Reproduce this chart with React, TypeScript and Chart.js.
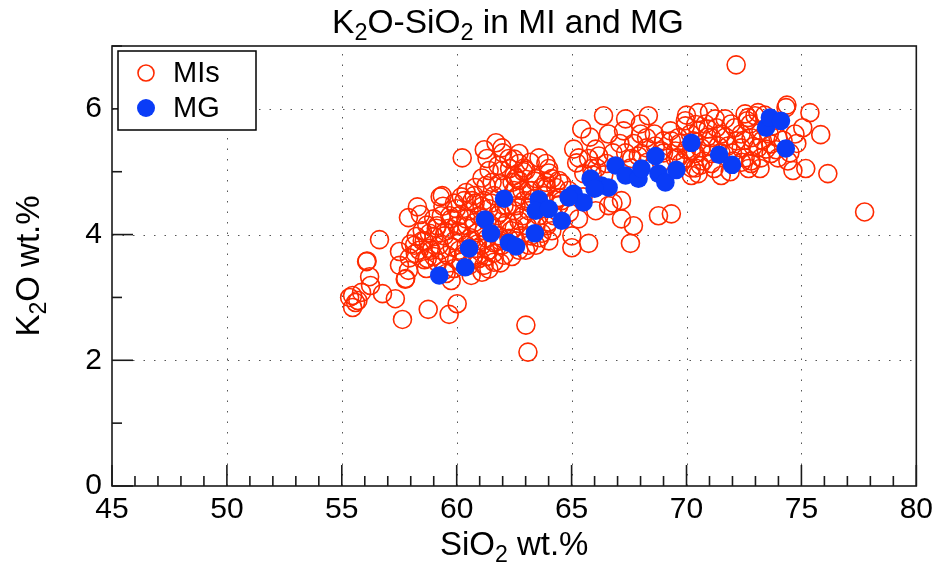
import React, { useEffect, useRef } from "react";
import { Chart, registerables } from "chart.js";

Chart.register(...registerables);

// ---- Data ----
const miSiO2: number[] = [
  55.34, 55.47, 55.47, 55.6, 55.7, 55.86, 56.08, 56.1, 56.21, 56.25, 56.64, 56.77, 57.33, 57.64, 57.76, 57.78, 57.51, 57.51, 57.9, 58.29, 58.42, 57.94, 57.9, 59.28, 58.76, 59.67, 60.02, 58.68, 58.24, 58.81, 59.15, 63.01, 63.1,
  58.59, 58.89, 59.24, 59.46, 59.67, 59.89, 60.11, 59.59, 59.15, 59.46, 58.72, 59.02, 60.19, 60.45, 60.63, 60.89, 61.1, 60.76, 60.19, 59.89, 60.54, 60.97, 61.41, 61.62, 61.19, 61.84, 62.06, 61.76, 61.41, 60.97, 60.54, 60.11, 59.76, 59.33, 60.32, 60.76, 61.19, 61.62, 62.06, 62.49, 62.71, 62.36, 62.8, 63.06, 63.14, 62.93, 62.49, 62.06, 62.71, 63.14, 63.36, 63.79, 63.58, 63.92, 64.23, 64.44, 64.01, 63.14, 62.71, 62.06, 61.62, 61.19, 60.63, 59.76, 59.54, 61.1, 59.11, 59.98, 60.41, 60.84, 61.32, 61.54, 61.97, 62.27, 62.58, 63.45, 63.23, 63.71, 60.02, 60.76, 61.32, 58.81, 58.37, 58.16, 58.5,
  59.5, 59.8, 60.0, 60.3, 60.6, 60.9, 61.3, 61.6, 61.9, 62.2, 62.5, 62.9, 63.2, 62.6, 62.2, 61.9, 61.5, 61.1, 60.8, 60.4, 60.1, 59.7, 59.4, 59.0, 58.7, 58.5, 58.2, 58.0, 58.6, 59.0, 59.3, 60.7, 61.4, 61.9, 62.4, 63.0, 63.6, 64.0, 64.3, 63.9, 63.4, 62.9, 62.3, 61.8, 61.1, 60.8, 60.2, 59.9,
  61.71, 61.97, 61.32, 62.27, 62.71, 63.58, 63.88, 61.41, 61.97, 63.01, 64.14, 64.57, 61.54, 62.41, 63.45, 60.41, 59.37, 62.84, 63.71, 61.28, 61.84, 62.49, 62.93, 60.24, 60.67,
  61.2, 62.0, 62.5, 63.2, 64.0,
  66.39, 65.44, 67.35, 67.26, 67.99, 68.34, 68.26, 69.0, 69.34, 69.95, 70.17, 65.09, 66.05, 66.18, 65.31, 67.35, 67.61, 68.26, 68.65, 69.0, 69.52, 69.64, 70.38, 65.87, 66.52, 67.56, 65.53, 67.17, 66.05, 66.61, 67.69, 67.17, 68.78, 69.34, 65.01, 65.01, 65.74, 67.56, 64.44, 64.88, 65.74, 65.22, 66.09, 68.04, 68.91, 69.52, 70.21, 70.38, 69.77, 62.71, 64.01, 64.44, 63.88, 62.58, 64.31, 63.27, 64.57, 64.14, 63.71, 63.45, 62.58,
  65.5, 65.9, 66.4, 66.8, 67.1, 67.7, 68.0, 68.6, 69.3, 69.7, 70.0, 68.9, 68.3, 67.9, 66.6, 65.8, 66.8, 65.3, 64.9,
  72.16, 74.33, 74.37, 75.37, 75.06, 75.84, 75.19, 74.63, 76.15, 77.75, 70.51, 71.68, 72.68, 73.11, 70.21, 71.51, 72.81, 73.68, 74.41, 71.25, 72.55, 72.98, 72.77, 69.95, 69.64, 70.51, 70.82, 71.08, 71.51, 71.94, 72.38, 72.81, 73.24, 70.64, 71.08, 71.81, 72.38, 72.55, 73.11, 73.68, 73.46, 73.98, 70.21, 70.51, 71.08, 72.81, 73.24, 73.98, 69.95, 74.72, 72.16, 71.38, 70.94, 70.3, 72.64, 73.77, 72.03, 70.73,
  70.9, 71.3, 71.7, 72.1, 72.5, 72.9, 73.3, 73.6, 73.9, 74.2, 71.0, 71.5, 72.0, 72.4, 72.7, 73.2, 70.6, 71.2, 71.9, 74.5, 74.8, 70.4, 70.0, 71.0, 73.4,
];
const miK2O: number[] = [
  3.0, 2.84, 3.03, 2.92, 2.95, 3.08, 3.57, 3.58, 3.33, 3.19, 3.92, 3.06, 2.98, 2.65, 3.29, 3.3, 3.73, 3.51, 4.27, 4.44, 4.32, 3.63, 3.43, 4.6, 2.81, 2.73, 2.9, 3.46, 3.97, 4.02, 4.14, 2.56, 2.13,
  3.9, 3.75, 3.83, 3.98, 4.1, 3.9, 3.75, 3.67, 3.56, 3.43, 3.62, 3.97, 4.03, 4.14, 3.9, 4.03, 3.83, 3.67, 3.56, 3.46, 3.51, 3.62, 3.75, 3.87, 4.06, 3.98, 4.14, 4.3, 4.41, 4.3, 4.38, 4.3, 4.25, 4.3, 4.54, 4.62, 4.54, 4.62, 4.46, 4.38, 4.22, 4.06, 3.98, 4.14, 4.38, 4.54, 4.7, 4.78, 4.86, 4.7, 4.57, 4.62, 4.3, 4.14, 4.3, 4.46, 3.9, 3.83, 3.75, 3.67, 3.56, 3.51, 3.35, 3.27, 3.38, 3.4, 4.1, 4.41, 3.83, 3.78, 3.94, 4.14, 3.83, 3.94, 4.46, 4.14, 3.98, 4.41, 4.14, 4.19, 4.22, 3.78, 3.75, 3.83, 4.06,
  4.05, 3.8, 3.6, 3.7, 3.95, 3.85, 3.65, 3.7, 3.9, 4.2, 4.1, 4.3, 4.5, 4.6, 4.45, 4.35, 4.5, 4.45, 4.5, 4.25, 4.05, 4.3, 4.45, 4.25, 4.15, 3.9, 3.7, 3.85, 3.6, 3.65, 3.75, 3.6, 3.45, 3.55, 3.65, 3.75, 3.95, 4.2, 4.55, 4.75, 4.85, 5.0, 5.05, 5.1, 4.9, 4.75, 4.6, 4.5,
  5.46, 5.38, 5.21, 5.21, 5.13, 5.22, 5.13, 5.02, 5.02, 5.02, 4.89, 4.81, 4.83, 4.83, 4.89, 4.67, 4.62, 4.7, 4.75, 4.78, 4.81, 4.94, 5.06, 5.22, 4.54,
  5.35, 5.3, 5.2, 5.15, 5.05,
  5.89, 5.68, 5.84, 5.65, 5.76, 5.89, 5.54, 5.49, 5.49, 5.73, 5.6, 5.36, 5.36, 5.25, 5.22, 5.3, 5.21, 5.38, 5.41, 5.3, 5.33, 5.22, 5.29, 5.05, 5.13, 5.06, 4.97, 4.54, 4.38, 4.46, 4.14, 4.25, 4.3, 4.33, 3.98, 3.79, 3.86, 3.86, 4.59, 4.7, 5.21, 5.14, 5.06, 5.29, 5.33, 5.21, 5.33, 5.06, 5.14, 5.29, 4.98, 4.86, 4.83, 4.9, 4.75, 4.7, 4.54, 4.06, 4.02, 3.83, 3.9,
  4.6, 4.95, 4.95, 5.3, 5.45, 5.45, 5.6, 5.6, 5.65, 5.45, 5.35, 5.15, 5.15, 5.25, 5.6, 5.55, 4.5, 4.25, 4.35,
  6.7, 6.02, 6.06, 5.94, 5.7, 5.59, 5.05, 5.02, 4.97, 4.36, 5.94, 5.84, 5.86, 5.94, 4.94, 4.94, 5.17, 5.29, 5.17, 5.84, 5.92, 5.89, 5.76, 5.81, 5.54, 5.65, 5.76, 5.54, 5.6, 5.76, 5.6, 5.54, 5.65, 5.38, 5.29, 5.41, 5.38, 5.22, 5.38, 5.44, 5.36, 5.54, 5.06, 4.97, 5.13, 5.13, 5.22, 5.22, 5.22, 5.6, 5.49, 5.41, 5.68, 5.49, 5.81, 5.73, 5.17, 5.17,
  5.55, 5.7, 5.55, 5.7, 5.5, 5.4, 5.5, 5.6, 5.35, 5.5, 5.4, 5.3, 5.3, 5.15, 5.05, 5.05, 5.1, 5.05, 5.0, 5.3, 5.45, 5.75, 5.9, 5.95, 5.9,
];

const mgSiO2: number[] = [
  59.24, 60.37, 60.54, 61.23, 61.49, 62.06, 62.27, 62.58, 63.4, 63.57, 63.44, 64.01, 64.57, 65.09, 65.52, 65.83, 66.3, 66.61, 66.91, 67.35, 67.91, 68.04, 68.65, 68.78, 69.08, 69.56, 70.21, 71.42, 71.98, 73.46, 73.63, 74.11, 74.32, 64.87, 66.0,
];
const mgK2O: number[] = [
  3.35, 3.48, 3.78, 4.24, 4.02, 4.57, 3.87, 3.81, 4.02, 4.56, 4.38, 4.41, 4.22, 4.65, 4.51, 4.89, 4.78, 4.75, 5.1, 4.94, 4.89, 5.05, 5.25, 4.97, 4.83, 5.03, 5.46, 5.27, 5.11, 5.7, 5.86, 5.81, 5.37, 4.59, 4.73,
];

const xMajorTicks: number[] = [45, 50, 55, 60, 65, 70, 75, 80];
const yMajorTicks: number[] = [0, 2, 4, 6];

const title: [string, boolean][] = [["K", false], ["2", true], ["O-SiO", false], ["2", true], [" in MI and MG", false]];
const xTitle: [string, boolean][] = [["SiO", false], ["2", true], [" wt.%", false]];
const yTitle: [string, boolean][] = [["K", false], ["2", true], ["O wt.%", false]];
const legendLabels: string[] = ["MIs", "MG"];

const RED = "#ff2a00";
const BLUE = "#0a3cf7";
const FONT = "'Liberation Sans', Arial, Helvetica, sans-serif";

function richWidth(ctx: CanvasRenderingContext2D, parts: [string, boolean][], size: number) {
  let w = 0;
  for (const [t, sub] of parts) {
    ctx.font = `${sub ? size * 0.7 : size}px ${FONT}`;
    w += ctx.measureText(t).width;
  }
  return w;
}
function drawRich(ctx: CanvasRenderingContext2D, parts: [string, boolean][], cx: number, y: number, size: number) {
  const w = richWidth(ctx, parts, size);
  let x = cx - w / 2;
  ctx.textAlign = "left";
  ctx.textBaseline = "alphabetic";
  ctx.fillStyle = "#000";
  for (const [t, sub] of parts) {
    ctx.font = `${sub ? size * 0.7 : size}px ${FONT}`;
    ctx.fillText(t, x, sub ? y + size * 0.22 : y);
    x += ctx.measureText(t).width;
  }
}

const rootPlugin = {
  id: "rootStyle",
  beforeDatasetsDraw(chart: any) {
    const { ctx, chartArea: a, scales } = chart;
    const xs = scales.x, ys = scales.y;
    ctx.save();
    ctx.strokeStyle = "#555";
    ctx.lineWidth = 1;
    ctx.setLineDash([1.5, 9]);
    for (const v of xMajorTicks) {
      if (v <= xs.min || v >= xs.max) continue;
      const px = Math.round(xs.getPixelForValue(v)) + 0.5;
      ctx.beginPath(); ctx.moveTo(px, a.bottom); ctx.lineTo(px, a.top); ctx.stroke();
    }
    for (const v of yMajorTicks) {
      if (v <= ys.min || v >= ys.max) continue;
      const py = Math.round(ys.getPixelForValue(v)) + 0.5;
      ctx.beginPath(); ctx.moveTo(a.left, py); ctx.lineTo(a.right, py); ctx.stroke();
    }
    ctx.restore();
  },
  afterDatasetsDraw(chart: any) {
    const { ctx, chartArea: a, scales } = chart;
    const xs = scales.x, ys = scales.y;
    ctx.save();
    ctx.setLineDash([]);
    ctx.strokeStyle = "#1a1a1a";
    ctx.lineWidth = 1.6;
    ctx.strokeRect(a.left, a.top, a.right - a.left, a.bottom - a.top);
    for (let v = xs.min; v <= xs.max + 1e-9; v += 1) {
      const px = xs.getPixelForValue(v);
      const len = Math.abs(v % 5) < 1e-9 ? 21 : 10;
      ctx.beginPath(); ctx.moveTo(px, a.bottom); ctx.lineTo(px, a.bottom - len); ctx.stroke();
    }
    for (let v = ys.min; v <= ys.max + 1e-9; v += 1) {
      const py = ys.getPixelForValue(v);
      const len = Math.abs(v % 2) < 1e-9 ? 21 : 10;
      ctx.beginPath(); ctx.moveTo(a.left, py); ctx.lineTo(a.left + len, py); ctx.stroke();
    }
    // legend
    const lx = 118, ly = 51, lw = 138, lh = 79;
    ctx.fillStyle = "#fff";
    ctx.fillRect(lx, ly, lw, lh);
    ctx.strokeStyle = "#000";
    ctx.lineWidth = 1.5;
    ctx.strokeRect(lx, ly, lw, lh);
    const rows = [ly + 22, ly + 57];
    ctx.beginPath(); ctx.arc(lx + 28, rows[0], 8, 0, Math.PI * 2);
    ctx.strokeStyle = RED; ctx.lineWidth = 1.6; ctx.stroke();
    ctx.beginPath(); ctx.arc(lx + 28, rows[1], 9, 0, Math.PI * 2);
    ctx.fillStyle = BLUE; ctx.fill();
    ctx.fillStyle = "#000";
    ctx.font = `29px ${FONT}`;
    ctx.textAlign = "left";
    ctx.textBaseline = "middle";
    ctx.fillText(legendLabels[0], lx + 55, rows[0] + 1);
    ctx.fillText(legendLabels[1], lx + 55, rows[1] + 1);
    ctx.restore();
  },
  afterDraw(chart: any) {
    const { ctx, chartArea: a } = chart;
    ctx.save();
    drawRich(ctx, title, 508, 33, 33.5);
    drawRich(ctx, xTitle, (a.left + a.right) / 2, 555, 33);
    ctx.translate(39, (a.top + a.bottom) / 2);
    ctx.rotate(-Math.PI / 2);
    drawRich(ctx, yTitle, 0, 0, 33);
    ctx.restore();
  },
};

export default function App() {
  const ref = useRef<HTMLCanvasElement | null>(null);
  useEffect(() => {
    document.body.style.margin = "0";
    const canvas = ref.current!;
    const chart = new Chart(canvas, {
      type: "scatter",
      data: {
        datasets: [
          {
            label: "MG",
            data: mgSiO2.map((x, i) => ({ x, y: mgK2O[i] })),
            pointRadius: 9.3,
            pointBackgroundColor: BLUE,
            pointBorderColor: BLUE,
            pointBorderWidth: 0,
            order: 0,
          },
          {
            label: "MIs",
            data: miSiO2.map((x, i) => ({ x, y: miK2O[i] })),
            pointRadius: 9,
            pointBackgroundColor: "rgba(0,0,0,0)",
            pointBorderColor: RED,
            pointBorderWidth: 1.6,
            order: 1,
          },
        ],
      },
      options: {
        responsive: false,
        animation: false,
        devicePixelRatio: 1,
        layout: { padding: { left: 0, right: 21, top: 46, bottom: 0 } },
        plugins: { legend: { display: false }, tooltip: { enabled: false }, title: { display: false } },
        scales: {
          x: {
            type: "linear",
            min: 45,
            max: 80,
            grid: { display: false, drawTicks: false },
            border: { display: false },
            afterBuildTicks: (s: any) => { s.ticks = xMajorTicks.map((v) => ({ value: v })); },
            afterFit: (s: any) => { s.height = 79; },
            ticks: { font: { size: 30, family: FONT }, color: "#000", padding: 6, autoSkip: false, maxRotation: 0 },
          },
          y: {
            type: "linear",
            min: 0,
            max: 7,
            grid: { display: false, drawTicks: false },
            border: { display: false },
            afterBuildTicks: (s: any) => { s.ticks = yMajorTicks.map((v) => ({ value: v })); },
            afterFit: (s: any) => { s.width = 112; },
            ticks: { font: { size: 30, family: FONT }, color: "#000", padding: 10, autoSkip: false },
          },
        },
      },
      plugins: [rootPlugin],
    } as any);
    return () => chart.destroy();
  }, []);
  return (
    <div style={{ position: "fixed", left: 0, top: 0, width: 939, height: 565, background: "#fff" }}>
      <canvas ref={ref} width={939} height={565} style={{ width: 939, height: 565, display: "block" }} />
    </div>
  );
}
